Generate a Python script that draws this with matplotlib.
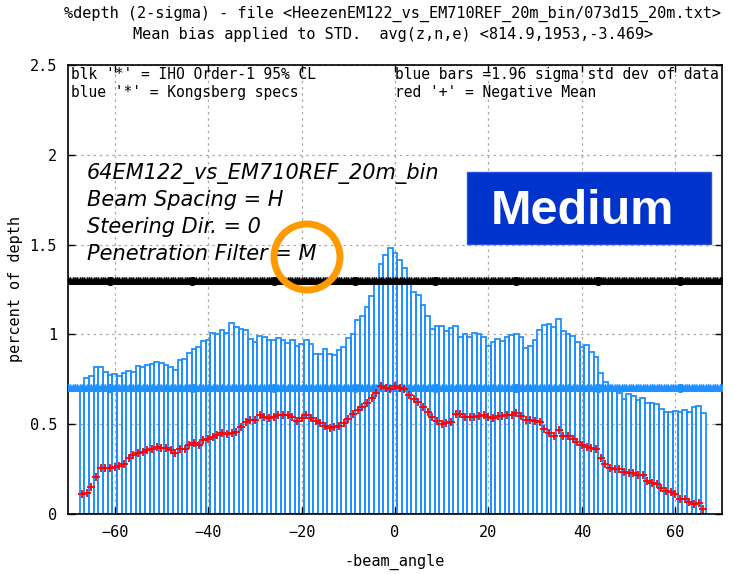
import numpy as np
import matplotlib
matplotlib.use('Agg')
import matplotlib.pyplot as plt
from matplotlib.patches import Rectangle, Ellipse

# ---------------- data ----------------
beam_angle = list(range(-67, 67))

std_bars = [
    0.69, 0.76, 0.77, 0.816, 0.82, 0.793, 0.775, 0.78, 0.77, 0.784,
    0.797, 0.788, 0.825, 0.82, 0.827, 0.834, 0.846, 0.84, 0.827, 0.82,
    0.803, 0.855, 0.862, 0.896, 0.92, 0.929, 0.964, 0.97, 1.01, 1.0,
    1.026, 1.01, 1.066, 1.04, 1.03, 1.026, 0.974, 0.96, 0.992, 0.985,
    0.97, 0.97, 0.98, 0.97, 0.951, 0.97, 0.936, 0.945, 0.97,
    0.948, 0.892, 0.892, 0.918, 0.892, 0.885, 0.914, 0.929, 0.98, 1.003,
    1.078, 1.104, 1.152, 1.215, 1.286, 1.392, 1.444, 1.481, 1.453, 1.412,
    1.37, 1.30, 1.234, 1.221, 1.165, 1.10, 1.03, 1.044, 1.044, 1.02,
    1.035, 1.048, 0.988, 1.0, 0.983, 1.007, 1.0,
    0.988,
    0.933, 0.955, 0.975, 0.964, 0.983, 0.998, 1.003, 0.983, 0.924, 0.936,
    0.97, 1.026, 1.052, 1.059, 1.04, 1.085, 1.02, 1.003, 0.992, 0.957,
    0.929, 0.942, 0.9, 0.873, 0.784, 0.737, 0.71, 0.697, 0.673, 0.639,
    0.667, 0.658, 0.632, 0.648, 0.62, 0.617, 0.614, 0.585, 0.567, 0.567,
    0.574, 0.567, 0.58, 0.567, 0.595, 0.602, 0.561,
]

neg_mean = [
    0.11, 0.115, 0.149, 0.205, 0.258, 0.258, 0.258, 0.264, 0.27, 0.28,
    0.31, 0.33, 0.338, 0.347, 0.357, 0.362, 0.375, 0.368, 0.368, 0.357,
    0.342, 0.362, 0.362, 0.385, 0.397, 0.385, 0.41, 0.416, 0.431, 0.439,
    0.453, 0.446, 0.453, 0.459, 0.483, 0.511, 0.524, 0.524, 0.553, 0.542,
    0.533, 0.538, 0.55, 0.55, 0.55, 0.542, 0.518, 0.533, 0.55,
    0.533, 0.518, 0.505, 0.49, 0.478, 0.487, 0.49, 0.505, 0.53, 0.557,
    0.58, 0.598, 0.62, 0.647, 0.676, 0.715, 0.70, 0.697, 0.71, 0.70,
    0.697, 0.661, 0.643, 0.623, 0.593, 0.567, 0.539, 0.52, 0.503, 0.505,
    0.51, 0.556, 0.556, 0.542, 0.539, 0.539, 0.544, 0.553, 0.539, 0.533,
    0.548,
    0.548, 0.553, 0.553, 0.56, 0.548, 0.524, 0.524, 0.518, 0.512, 0.471,
    0.45, 0.437, 0.465, 0.436, 0.432, 0.42, 0.40, 0.382, 0.371, 0.366,
    0.36, 0.31, 0.277, 0.258, 0.25, 0.25, 0.236, 0.23, 0.23, 0.217,
    0.217, 0.182, 0.175, 0.169, 0.143, 0.13, 0.123, 0.113, 0.081, 0.081,
    0.065, 0.054, 0.06, 0.029,
]

iho_level = 1.3
kongsberg_level = 0.7
ref_x = np.arange(-70, 70.01, 0.5)
ref_big_x = [-61, -43.5, -26, -8.5, 8.5, 26, 43.5, 61]

x_ticks = [-60, -40, -20, 0, 20, 40, 60]
y_ticks = [0, 0.5, 1, 1.5, 2, 2.5]
y_tick_labels = ['0', '0.5', '1', '1.5', '2', '2.5']

title_lines = ["%depth (2-sigma) - file <HeezenEM122_vs_EM710REF_20m_bin/073d15_20m.txt>",
               "Mean bias applied to STD.  avg(z,n,e) <814.9,1953,-3.469>"]
key_lines = [("blk '*' = IHO Order-1 95% CL", "blue bars =1.96 sigma std dev of data"),
             ("blue '*' = Kongsberg specs", "red '+' = Negative Mean")]
info_lines = ["64EM122_vs_EM710REF_20m_bin", "Beam Spacing = H",
              "Steering Dir. = 0", "Penetration Filter = M"]

# ---------------- figure ----------------
W, H = 734, 574
fig = plt.figure(figsize=(W / 100, H / 100), dpi=100)
fig.patch.set_facecolor('white')
ax = fig.add_axes([68 / W, (H - 514) / H, 654 / W, 449 / H])

MONO = 'DejaVu Sans Mono'
BLUE = '#1E90FF'

ax.bar(beam_angle, std_bars, width=1.0, facecolor='none',
       edgecolor=BLUE, linewidth=1.3, zorder=2)

ax.plot(ref_x, [iho_level] * len(ref_x), color='black', lw=1.2,
        marker='*', ms=6, zorder=3)
ax.plot(ref_big_x, [iho_level] * len(ref_big_x), 'o', color='black', ms=5.5, zorder=3)
ax.plot(ref_x, [kongsberg_level] * len(ref_x), color=BLUE, lw=1.8,
        marker='*', ms=6, zorder=3)
ax.plot(ref_big_x, [kongsberg_level] * len(ref_big_x), 'o', color=BLUE, ms=5.5, zorder=3)

ax.plot(beam_angle, neg_mean, linestyle='none', marker='+', color='red',
        ms=6, mew=1.3, zorder=5)

ax.set_xlim(-70, 70)
ax.set_ylim(0, 2.5)
ax.set_xticks(x_ticks)
ax.set_yticks(y_ticks)
ax.set_yticklabels(y_tick_labels)
ax.tick_params(direction='in', top=True, right=True, length=5, width=1,
               labelsize=11, pad=8)
for lab in ax.get_xticklabels() + ax.get_yticklabels():
    lab.set_family(MONO)
ax.grid(True, color='#a8a8a8', linestyle=(0, (2, 3)), linewidth=0.9, zorder=0)
ax.set_axisbelow(True)
for s in ax.spines.values():
    s.set_linewidth(1.2)

ax.set_xlabel('-beam_angle', family=MONO, size=11, labelpad=10)
ax.set_ylabel('percent of depth', family=MONO, size=11, labelpad=5)


def ftext(x, y, s, **kw):
    fig.text(x / W, 1 - y / H, s, **kw)


ftext(393, 14, title_lines[0], ha='center', va='center', family=MONO, size=11)
ftext(393, 34, title_lines[1], ha='center', va='center', family=MONO, size=11)

for i, (left, right) in enumerate(key_lines):
    ftext(71, 74 + 18 * i, left, ha='left', va='center', family=MONO, size=10.5, zorder=6)
    ftext(395, 74 + 18 * i, right, ha='left', va='center', family=MONO, size=10.5, zorder=6)

for i, s in enumerate(info_lines):
    ftext(87, 173 + 27 * i, s, ha='left', va='center', family='DejaVu Sans',
          style='italic', size=15, zorder=6)

fig.patches.append(Rectangle((467 / W, 1 - 244 / H), 244 / W, 72 / H,
                             transform=fig.transFigure, facecolor='#0033CC',
                             edgecolor='#2255dd', lw=1, zorder=6))
ftext(582, 211, 'Medium', ha='center', va='center', family='Liberation Sans',
      weight='bold', size=35, color='white', zorder=7)

fig.patches.append(Ellipse((307 / W, 1 - 257 / H), 66 / W, 66 / H,
                           transform=fig.transFigure, facecolor='none',
                           edgecolor='#FF9900', lw=5, zorder=8))

fig.savefig('out.png', dpi=100)
